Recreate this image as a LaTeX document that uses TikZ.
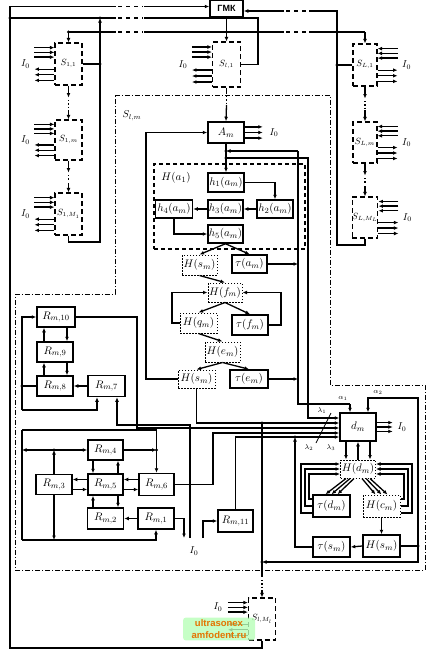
\documentclass[tikz,border=0pt]{standalone}
\usepackage{fontspec}
\newfontfamily\cyrfont{Liberation Sans}
\usetikzlibrary{arrows.meta,calc}
\tikzset{
 conn/.style={line width=1.3pt},
 arr/.style={conn,-{Latex[length=4.5pt,width=3.8pt]}},
 blk/.style={draw,line width=1.5pt,inner sep=0pt,font=\fontsize{11}{12}\selectfont},
 dblk/.style={draw,line width=1pt,dash pattern=on 1.5pt off 1.5pt,inner sep=0pt,font=\fontsize{11}{12}\selectfont},
 sblk/.style={draw,line width=1.1pt,dash pattern=on 5pt off 3pt,inner sep=0pt,font=\small},
 hbox/.style={draw,line width=1.1pt,dash pattern=on 4pt off 3pt,inner sep=0pt},
 wh/.style 2 args={minimum width=#1pt,minimum height=#2pt},
 jdot/.style={circle,fill,inner sep=0pt,minimum size=3.2pt},
 sysframe/.style={line width=0.9pt,dash pattern=on 5pt off 2pt on 1pt off 2pt},
 lab/.style={font=\normalsize,inner sep=0pt},
 tlab/.style={font=\scriptsize,inner sep=0pt},
}
\newcommand\iol[1]{%
 \foreach \ff in {0.12,0.23,0.34}{\draw[arr] ($(#1.north west)!\ff!(#1.south west)$) ++(-20,0) -- ++(20,0);}
 \foreach \ff in {0.62,0.75,0.88}{\draw[arr] ($(#1.north west)!\ff!(#1.south west)$) -- ++(-20,0);}}
\newcommand\ior[1]{%
 \foreach \ff in {0.12,0.23,0.34}{\draw[arr] ($(#1.north east)!\ff!(#1.south east)$) ++(20,0) -- ++(-20,0);}
 \foreach \ff in {0.62,0.75,0.88}{\draw[arr] ($(#1.north east)!\ff!(#1.south east)$) -- ++(20,0);}
 \node[lab] (#1io) at ([xshift=29pt]#1.east) {$I_0$};}
\begin{document}
\begin{tikzpicture}[x=1pt,y=-1pt]
\useasboundingbox (0,0) rectangle (439,651);

% ---------- nodes ----------
\node[blk,wh={33}{17},font=\cyrfont\bfseries\small] (gmk) at (226.5,8.5) {ГМК};
\node[sblk,wh={27}{42}] (S11) at (68.5,64) {$S_{1,1}$};
\node[sblk,wh={27}{40}] (S1m) at (68.5,140) {$S_{1,m}$};
\node[sblk,wh={27}{42}] (S1M) at (68.5,214) {$S_{1,M_1}$};
\node[sblk,wh={28}{45}] (Sl1) at (226.5,64.5) {$S_{l,1}$};
\node[sblk,wh={24}{42}] (SL1) at (365,65) {$S_{L,1}$};
\node[sblk,wh={24}{41}] (SLm) at (365,142.5) {$S_{L,m}$};
\node[sblk,wh={24}{41}] (SLM) at (365,217.5) {$S_{L,M_L}$};
\node[sblk,wh={27}{42}] (SlM) at (262,619) {$S_{l,M_l}$};

\node[blk,wh={36}{21}] (Am) at (226,132.5) {$A_m$};
\node[lab] (slmlab) at (132,116) {$S_{l,m}$};

\node[hbox,wh={151}{85}] (Ha) at (229.5,206.5) {};
\node[lab,font=\fontsize{11}{12}\selectfont] (Halab) at (176,178) {$H(a_1)$};
\node[blk,wh={36}{19}] (h1) at (226,182.5) {$h_1(a_m)$};
\node[blk,wh={35}{18}] (h3) at (225.5,209) {$h_3(a_m)$};
\node[blk,wh={36}{18}] (h2) at (275,209) {$h_2(a_m)$};
\node[blk,wh={37}{18}] (h4) at (174,209) {$h_4(a_m)$};
\node[blk,wh={35}{18}] (h5) at (225.5,234) {$h_5(a_m)$};

\node[dblk,wh={35}{20}] (Hs1) at (199.5,265) {$H(s_m)$};
\node[blk,wh={35}{18}] (ta) at (249.5,264) {$\tau(a_m)$};
\node[dblk,wh={34}{19}] (Hf) at (225,292.5) {$H(f_m)$};
\node[dblk,wh={37}{20}] (Hq) at (198.5,323) {$H(q_m)$};
\node[blk,wh={36}{20}] (tf) at (250,325) {$\tau(f_m)$};
\node[dblk,wh={35}{20}] (He) at (222.5,352) {$H(e_m)$};
\node[dblk,wh={37}{18}] (Hs2) at (196.5,379) {$H(s_m)$};
\node[blk,wh={38}{18}] (te) at (249,379) {$\tau(e_m)$};

\node[blk,wh={36}{28}] (dm) at (358,427) {$d_m$};
\node[dblk,wh={35}{18}] (Hd) at (358,469) {$H(d_m)$};
\node[blk,wh={37}{22}] (td) at (331.5,506) {$\tau(d_m)$};
\node[dblk,wh={37}{22}] (Hc) at (381.5,506) {$H(c_m)$};
\node[blk,wh={37}{22}] (Hs3) at (381.5,546) {$H(s_m)$};
\node[blk,wh={37}{20}] (ts) at (331.5,547) {$\tau(s_m)$};

\node[blk,wh={38}{20}] (R10) at (56,317) {$R_{m,10}$};
\node[blk,wh={36}{20}] (R9) at (55,352) {$R_{m,9}$};
\node[blk,wh={36}{20}] (R8) at (55,386) {$R_{m,8}$};
\node[blk,wh={37}{21}] (R7) at (106.5,386) {$R_{m,7}$};
\node[blk,wh={35}{20}] (R4) at (105.5,450) {$R_{m,4}$};
\node[blk,wh={36}{20}] (R3) at (54,484.5) {$R_{m,3}$};
\node[blk,wh={35}{21}] (R5) at (105.5,484.5) {$R_{m,5}$};
\node[blk,wh={35}{22}] (R6) at (156.5,484.5) {$R_{m,6}$};
\node[blk,wh={36}{21}] (R2) at (105.5,518.5) {$R_{m,2}$};
\node[blk,wh={36}{21}] (R1) at (156,518.5) {$R_{m,1}$};
\node[blk,wh={35}{22}] (R11) at (235.5,521) {$R_{m,11}$};

% ---------- frame of S_{l,m} ----------
\draw[sysframe] (115,95) -- (330,95) -- (330,385) -- (425,385) -- (425,570) -- (15.5,570) -- (15.5,294) -- (115,294) -- cycle;

% ---------- top level ----------
\draw[arr] (SlM.south) |- (10,648) |- ([yshift=2pt]gmk.west);
\draw[conn] (10,18) -- (258,18) -- (258,64.5) -- (Sl1.east);
\draw[conn] (S11.east) -- (100,64);
\draw[arr] (S1M.south) -- (68.5,242) -- (100,242) -- (100,18);
\draw[conn] (68.5,32) -- (365,32);
\draw[arr] (68.5,32) -- (S11.north);
\draw[arr] (gmk.south) -- (Sl1.north);
\draw[arr] (365,32) -- (SL1.north);
\draw[arr] (SLM.south) |- (337,245) |- ([yshift=-2.5pt]gmk.east);
\draw[conn] (SL1.west) -- (337,65);
\foreach \p in {(10,18),(100,64),(100,18),(68.5,32),(226.5,32),(337,65)} \node[jdot] at \p {};

% gaps in the long lines
\fill[white] (116,2) rectangle (144,36);
\fill[white] (284,2) rectangle (309,36);
\foreach \yy in {6.5,18,32} \draw[conn,dash pattern=on 4pt off 4pt] (118,\yy) -- (143,\yy);
\foreach \yy in {11,32} \draw[conn,dash pattern=on 4pt off 4pt] (286,\yy) -- (309,\yy);

% columns
\draw[arr] (S11.south) -- ++(0,12);
\draw[conn,dotted] (68.5,100) -- (68.5,108);
\draw[arr] (68.5,110) -- (S1m.north);
\draw[arr] (S1m.south) -- ++(0,12);
\draw[conn,dotted] (68.5,175) -- (68.5,181);
\draw[arr] (68.5,183) -- (S1M.north);
\draw[arr] (SL1.south) -- ++(0,12);
\draw[conn,dotted] (365,101) -- (365,108);
\draw[arr] (365,110) -- (SLm.north);
\draw[arr] (SLm.south) -- ++(0,12);
\draw[conn,dotted] (365,178) -- (365,184);
\draw[arr] (365,186) -- (SLM.north);
\draw[conn] (Sl1.south) -- ++(0,6);
\draw[conn,dotted] (226.5,96) -- (226.5,103);
\draw[arr] (226.5,105) -- (Am.north);

% I/O stubs
\iol{S11} \iol{S1m} \iol{S1M} \iol{Sl1} \iol{SlM}
\node[lab] (S11io) at ([xshift=-29pt]S11.west) {$I_0$};
\node[lab] (S1mio) at ([xshift=-29pt]S1m.west) {$I_0$};
\node[lab] (S1Mio) at ([xshift=-29pt]S1M.west) {$I_0$};
\node[lab] (Sl1io) at ([xshift=-29pt]Sl1.west) {$I_0$};
\node[lab] (SlMio) at ([xshift=-30pt,yshift=12pt]SlM.west) {$I_0$};
\ior{SL1} \ior{SLm} \ior{SLM}
\foreach \ff in {0.25,0.5,0.75}{\draw[arr] ($(Am.north east)!\ff!(Am.south east)$) -- ++(18,0);}
\node[lab] (Amio) at (274,132.5) {$I_0$};
\foreach \ff in {0.35,0.5,0.65}{\draw[arr] ($(dm.north east)!\ff!(dm.south east)$) -- ++(16,0);}
\node[lab] (dmio) at (402,427) {$I_0$};

% ---------- inside S_{l,m} ----------
\coordinate (j1) at (226,151);
\coordinate (j2) at (226,158);
\draw[conn] (Am.south) -- (j2);
\draw[arr] (j2) -- (h1.north);
\draw[arr] (298,151) -- (j1);
\node[jdot] at (j1) {}; \node[jdot] at (j2) {};
\draw[arr] (j2) -- (308,158) -- (308,418) -- ([yshift=9pt]dm.west);
\draw[conn] (298,151) -- (298,404) -- (350,404);
\draw[arr] (350,404) -- ([xshift=-8pt]dm.north);

\draw[arr] (h1.east) -| (h2.north);
\draw[arr] (h2.west) -- (h3.east);
\draw[arr] (h3.west) -- (h4.east);
\draw[arr] (h4.south) |- (h5.west);

\draw[arr] (h5.south) -- (Hs1.north);
\draw[arr] (h5.south) -- (ta.north);
\draw[arr] (ta.east) -- (298,264);
\draw[arr] (Hs1.south) -- (Hf.north);
\draw[arr] (Hf.south) -- (Hq.north);
\draw[arr] (Hf.south) -- (tf.north);
\draw[arr] (Hq.west) -- (172,323) |- (Hf.west);
\draw[arr] (tf.east) -- (281,325) |- (Hf.east);
\draw[arr] (Hq.south) -- (He.north);
\draw[arr] (He.south) -- (Hs2.north);
\draw[arr] (He.south) -- (te.north);
\draw[arr] (te.east) -- (298,379);
\draw[arr] (Hs2.west) -- (146,379) |- (Am.west);
\draw[arr] (Hs2.south) |- ([yshift=4pt]dm.west);

% R -> d_m
\draw[arr] (R10.east) -- (137,317) -- (137,428) -- ([yshift=-1pt]dm.west);
\draw[arr] (R6.east) -- (213,484.5) -- (213,433) -- ([yshift=-6pt]dm.west);
\draw[arr] (R11.north) |- ([yshift=-10pt]dm.west);
\draw[arr] (ts.west) -- (295,547) -- (295,437);
\node[jdot] at (295,437) {};

% switch and labels
\draw[line width=0.8pt] (316,443) -- (331,413);
\node[tlab] (l1) at (322,410.5) {$\lambda_1$};
\node[tlab] (l2) at (309,448) {$\lambda_2$};
\node[tlab] (l3) at (331,448) {$\lambda_3$};
\node[tlab] (a1) at (343,398) {$\alpha_1$};
\node[tlab] (a2) at (378,392) {$\alpha_2$};

% to S_{l,M_l}
\draw[conn] (262,423) -- (262,577);
\node[jdot] at (262,423) {};
\draw[conn,dotted] (262,580) -- (262,588);
\draw[arr] (262,590) -- (SlM.north);

% d_m lower structure
\draw[arr] ([xshift=-12pt]dm.south) -- ([xshift=-12pt]Hd.north);
\draw[arr] (Hd.north) -- (dm.south);
\draw[arr] ([xshift=12pt]dm.south) -- ([xshift=12pt]Hd.north);
\draw[arr] ([xshift=-12pt]Hd.south) -- ([xshift=-6pt]td.north);
\draw[arr] ([xshift=-8pt]Hd.south) -- (td.north);
\draw[arr] ([xshift=-4pt]Hd.south) -- ([xshift=6pt]td.north);
\draw[arr] ([xshift=4pt]Hd.south) -- ([xshift=-6pt]Hc.north);
\draw[arr] ([xshift=8pt]Hd.south) -- (Hc.north);
\draw[arr] ([xshift=12pt]Hd.south) -- ([xshift=6pt]Hc.north);
\draw[arr] ([yshift=7pt]td.west) -- (309,499) |- ([yshift=-5pt]Hd.west);
\draw[arr] (td.west) -- (305,506) |- (Hd.west);
\draw[arr] ([yshift=-7pt]td.west) -- (301,513) |- ([yshift=5pt]Hd.west);
\draw[arr] ([yshift=7pt]Hc.east) -- (404,499) |- ([yshift=-5pt]Hd.east);
\draw[arr] (Hc.east) -- (408,506) |- (Hd.east);
\draw[arr] ([yshift=-7pt]Hc.east) -- (412,513) |- ([yshift=5pt]Hd.east);
\draw[arr] (Hc.south) -- (Hs3.north);
\draw[arr] (Hs3.west) -- (ts.east);
\draw[conn] (Hs3.east) -- (418,546);
\draw[arr] (418,546) -- (418,562) -- (262,562);
\draw[arr] (418,546) -- (418,398) -- (368,398) -- ([xshift=10pt]dm.north);
\node[jdot] at (418,546) {}; \node[jdot] at (262,562) {};

% ---------- R blocks ----------
\draw[arr] ([xshift=-11pt]R9.north) -- ([xshift=-12pt]R10.south);
\draw[arr] ([xshift=11pt]R10.south) -- ([xshift=12pt]R9.north);
\draw[arr] ([xshift=-11pt]R8.north) -- ([xshift=-11pt]R9.south);
\draw[arr] ([xshift=12pt]R9.south) -- ([xshift=12pt]R8.north);
\draw[arr] (R7.west) -- (R8.east);
\draw[conn] (R8.west) -- (22,386);
\draw[arr] (22,410) |- (R10.west);
\draw[arr] (22,410) -- (97,410) -- ([xshift=-9.5pt]R7.south);
\node[jdot] at (22,386) {};
\draw[arr] (190,538) -- (190,425) -- (117,425) -- ([xshift=10.5pt]R7.south);

\draw[conn] (22,430) -- (22,540);
\draw[arr] (22,430) -| (R6.north);
\draw[arr] (22,540) -| (R1.south);
\draw[arr] (R3.south) -- (54,540);
\draw[arr] (R3.north) -- (54,450);
\draw[arr] (54,450) -- (22,450);
\draw[arr] (54,450) -- (R4.west);
\draw[arr] (R4.east) -- (156.5,450);
\node[jdot] at (54,450) {}; \node[jdot] at (156.5,450) {};
\draw[arr] ([xshift=-12.5pt]R4.south) -- ([xshift=-12.5pt]R5.north);
\draw[arr] ([xshift=12.5pt]R5.north) -- ([xshift=12.5pt]R4.south);
\draw[arr] ([yshift=5pt]R5.west) -- ([yshift=5pt]R3.east);
\draw[arr] ([yshift=-5pt]R3.east) -- ([yshift=-5pt]R5.west);
\draw[arr] ([yshift=5pt]R6.west) -- ([yshift=5pt]R5.east);
\draw[arr] ([yshift=-5pt]R5.east) -- ([yshift=-5pt]R6.west);
\draw[arr] ([xshift=-12.5pt]R2.north) -- ([xshift=-12.5pt]R5.south);
\draw[arr] ([xshift=12.5pt]R5.south) -- ([xshift=12.5pt]R2.north);
\draw[arr] (R1.west) -- (R2.east);
\draw[arr] (R1.east) -| (184,538);
\draw[arr] (203,538) -- (203,521) -- (R11.west);
\node[lab] (rio) at (194,551) {$I_0$};

% watermark
\node[fill=green!28!white,fill opacity=0.8,text opacity=1,rounded corners=3pt,text=orange!90!black,
      font=\cyrfont\bfseries\fontsize{9.5}{12}\selectfont,align=center,inner sep=2pt,minimum width=72pt] (wm) at (219,629) {ultrasonex\\amfodent.ru};
\end{tikzpicture}
\end{document}
